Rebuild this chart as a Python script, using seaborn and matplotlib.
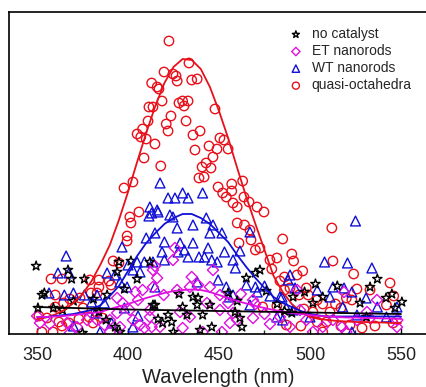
import matplotlib
matplotlib.use("Agg")
import matplotlib.pyplot as plt
import seaborn as sns
import pandas as pd
from matplotlib.ticker import MultipleLocator

# ---------------- data (wavelength nm, intensity a.u.) ----------------
quasi_x = [422.5, 433.5, 419.8, 424.7, 426.4, 427, 435, 438, 413, 416, 417, 418.7, 411.5, 413.7, 428, 430, 433, 430.8,
           447.8, 423.6, 431.9, 411, 421, 422, 408, 405, 407, 410, 439.6, 435.7, 414.8, 450.5, 452.7, 444.5, 448.9, 455,
           436.8, 446.7, 408.8, 442.9, 440.7, 445.6, 418, 439, 441.8, 463, 402.7, 397.8, 449.5, 457,
           406, 401, 401.6, 399.5, 399.5, 391.8, 395, 357.7, 363.7, 379, 384, 384, 389.6, 390.7, 360, 368, 379.7, 383,
           373.6, 360, 364.6, 375.3, 351, 355.5, 362, 363.7, 367.6, 373, 378.6, 380.8, 386, 352.7, 358.8, 382.4,
           452, 457, 454, 457.7, 460, 463.7, 466.5, 470.9, 474.7, 460, 464, 467, 467.6, 461, 472.5, 470, 485, 478, 481.8,
           479, 486, 474, 481.8, 486,
           512, 490, 491, 512.6, 496, 492.9, 524, 544, 483.5, 489, 498, 525.8, 533, 494, 499, 520, 523, 546, 504, 507,
           514, 517, 542, 496.7, 501.6, 511, 504, 509, 517, 522, 528.6, 535.7, 487, 495, 507, 545.6]
quasi_y = [293, 271, 262, 260, 258, 253, 254, 255, 251, 247, 245, 233, 227, 227, 231, 233, 233, 228,
           225, 218, 213, 213, 210, 203, 205, 200, 197, 195, 203, 199, 190, 196, 194, 188, 185, 185,
           184, 177, 176, 171, 167, 166, 168, 156, 157, 153, 152, 146, 147, 150,
           122, 117, 111, 98, 93, 73, 71, 55, 55, 54, 54, 47, 53, 49, 39, 35, 41, 41,
           36, 27, 31, 26, 18, 16, 12, 8, 11, 15, 17, 11, 16, 2, 2, 22,
           141, 143, 137, 131, 127, 137, 132, 127, 122, 111, 109, 104, 94, 91, 86, 84, 95, 74, 76,
           65, 57, 27, 28, 44,
           106, 80, 73, 73, 63, 59, 60, 51, 53, 46, 46, 45, 44, 39, 39, 36, 34, 38, 34, 30,
           30, 26, 29, 25, 22, 22, 12, 12, 8, 9, 6, 8, 9, 8, 2, 11]

wt_x = [417.6, 422, 425.8, 430, 433, 441, 412, 416.5, 423, 424.7, 443, 446.7, 427, 435.7, 451.6, 467, 414.8, 420,
        428.6, 435.7, 445, 444, 418.7, 427.5, 431, 439, 442, 446, 449, 453, 457.7, 461.5, 420, 413.7, 433, 459,
        438, 449.5, 454, 465, 470, 455.5, 457.7, 471, 475, 478, 484.6, 467, 481.8, 487, 414.8,
        366, 361.5, 367.6, 356.6, 365, 370, 376, 380, 383, 388.5, 392.8, 395.6, 399.5, 402.7, 400, 405, 406.6, 409,
        396.7, 410, 413, 411.5, 416, 382, 387, 391, 370, 384.6, 402.7, 405.5, 398,
        525, 508, 520.6, 534, 489, 488, 512.6, 504, 518.7, 523, 511, 530.8, 537, 547.8, 518, 483.5, 490.7, 491.8,
        500, 525.8, 523, 542, 485]
wt_y = [151, 136, 136, 141, 136, 141, 127, 122, 119, 117, 116, 109, 106, 109, 101, 102, 101, 92,
        91, 91, 101, 86, 82, 82, 84, 77, 77, 74, 72, 82, 74, 83, 74, 72, 77, 66,
        52, 54, 47, 49, 47, 37, 39, 42, 48, 38, 37, 29, 17, 26, 47,
        78, 61, 61, 41, 39, 41, 39, 32, 39, 61, 59, 52, 47, 64, 69, 72, 62, 72,
        87, 96, 121, 118, 124, 21, 31, 11, 8, 2, 7, 18, 26,
        113, 72, 71, 66, 59, 54, 47, 44, 46, 42, 37, 36, 27, 27, 27, 37, 24, 46,
        17, 19, 2, 17, 14]

et_x = [424.7, 425.8, 446.7, 413.7, 435, 434, 438.5, 445, 427, 419.6, 413.7, 443.4, 455, 428.6, 434, 450.5, 456,
        417.6, 430, 441, 451.6, 460, 468.7, 412,
        414.8, 416, 404, 408, 394, 397, 405.5, 401, 394, 390, 395.6, 402.7, 406.6, 409, 350, 351.6, 357, 366.5, 372,
        377.5, 383, 387, 368, 390, 413, 412,
        483.5, 489, 498, 507, 512.6, 517.6, 525.8, 531.3, 536.8, 533, 547.8, 548, 501.6, 520, 494.5, 518.7, 493,
        450.5, 457.7, 468.7, 470, 475, 478, 462]
et_y = [74, 86, 64, 64, 57, 47, 49, 47, 44, 39, 47, 31, 31, 22, 17, 24, 11,
        7, 6, 2, 2, 14, 16, 24,
        68, 56, 42, 44, 36, 31, 34, 24, 21, 14, 7, 14, 9, 6, 18, 11, 10, 11, 7,
        14, 14, 9, 1, 2, 7, 17,
        17, 7, 14, 7, 14, 7, 14, 22, 34, 16, 7, 14, 2, 2, 24, 42, 44,
        39, 21, 34, 30, 20, 10, 40]

none_x = [349.5, 367, 369, 352.7, 354, 376, 381, 388.5, 394, 395, 401.6, 350.5, 359, 388, 393, 395.6, 375, 413.7,
          416.5, 412, 435.7, 438.5, 438, 430, 432.4, 422, 424, 419, 425, 439.6, 446, 441, 455, 458.8, 461.5, 462.6,
          470, 472.5, 414.8, 507, 515, 527.5, 533, 541.8, 550.5, 546.7, 531, 490.7, 490, 501.6,
          476, 482, 486, 465, 497, 503, 537, 545, 460, 445, 428, 405, 398, 364, 370, 384]
none_y = [68, 64, 55, 39, 41, 55, 35, 39, 62, 72, 73, 26, 26, 14, 7, 2, 1, 29,
          15, 72, 37, 36, 29, 27, 19, 19, 12, 11, 2, 4, 7, 19, 41, 22, 16, 7,
          61, 64, 29, 37, 48, 31, 47, 36, 32, 26, 17, 37, 21, 31,
          43, 30, 23, 56, 42, 50, 55, 40, 33, 29, 40, 55, 45, 24, 33, 22]

# fitted curves (read at 5-nm steps)
fit_x = list(range(350, 551, 5))
fit_quasi = [15, 16.5, 19.5, 24, 31, 40, 53, 70, 89, 114, 142, 172, 201, 228, 251, 267, 275, 274, 265, 247, 223,
             196, 166, 137, 110, 84, 58, 42, 30, 22, 17, 15, 14, 13, 12.5, 12, 12, 11.5, 11.5, 11, 11]
fit_wt = [17, 17, 18, 19, 20, 22, 24, 29, 38, 48, 63, 78, 91, 101, 110, 116, 120, 120, 116, 110, 101,
          92, 79, 67, 56, 46, 37, 31, 27, 23, 20, 18.5, 17.5, 17.5, 17.5, 17.5, 17.5, 17.5, 17.5, 17.5, 17.5]
fit_et = [17, 17, 17.5, 18, 19, 20, 21, 22, 25, 27.5, 30, 33, 36, 38.5, 41, 43, 44, 44.5, 44, 42, 39,
          36, 33, 30.5, 28, 26, 24, 22.5, 21, 20, 19, 18, 17.5, 17, 16.5, 16.5, 16, 16, 15.5, 15.5, 15]
fit_none_x = [350, 400, 450, 500, 550]
fit_none = [27, 24.5, 23, 21.5, 20]

labels = ["no catalyst", "ET nanorods", "WT nanorods", "quasi-octahedra"]
c_red, c_blue, c_mag, c_black = "#e8101a", "#1010d8", "#e010e0", "#000000"

# ---------------- figure ----------------
sns.set_theme(style="white")
plt.rcParams["font.family"] = ["Liberation Sans", "DejaVu Sans"]

fig = plt.figure(figsize=(4.27, 3.87), dpi=100)
ax = fig.add_axes([9 / 427, 53 / 387, 418 / 427, 322 / 387])

df_q = pd.DataFrame({"x": quasi_x, "y": quasi_y})
df_w = pd.DataFrame({"x": wt_x, "y": wt_y})
df_e = pd.DataFrame({"x": et_x, "y": et_y})
df_n = pd.DataFrame({"x": none_x, "y": none_y})

sns.scatterplot(data=df_q, x="x", y="y", ax=ax, marker="o", s=46, facecolor="none",
                edgecolor=c_red, linewidth=1.0, label=labels[3], zorder=2)
sns.scatterplot(data=df_w, x="x", y="y", ax=ax, marker="^", s=50, facecolor="none",
                edgecolor=c_blue, linewidth=1.0, label=labels[2], zorder=2)
sns.scatterplot(data=df_e, x="x", y="y", ax=ax, marker="D", s=32, facecolor="none",
                edgecolor=c_mag, linewidth=1.0, label=labels[1], zorder=2)
sns.scatterplot(data=df_n, x="x", y="y", ax=ax, marker="*", s=50, facecolor="none",
                edgecolor=c_black, linewidth=1.0, label=labels[0], zorder=3)

sns.lineplot(x=fit_x, y=fit_quasi, ax=ax, color=c_red, lw=1.3, zorder=4)
sns.lineplot(x=fit_x, y=fit_wt, ax=ax, color=c_blue, lw=1.3, zorder=4)
sns.lineplot(x=fit_x, y=fit_et, ax=ax, color=c_mag, lw=1.3, zorder=4)
sns.lineplot(x=fit_none_x, y=fit_none, ax=ax, color=c_black, lw=1.3, zorder=4)

ax.set_xlim(334.6, 564.3)
ax.set_ylim(0, 322)
ax.set_yticks([])
ax.set_ylabel("")
ax.xaxis.set_major_locator(MultipleLocator(50))
ax.xaxis.set_minor_locator(MultipleLocator(25))
ax.tick_params(axis="x", which="major", direction="in", length=4, width=1, labelsize=13, pad=9,
               colors="black", labelcolor="#222222", bottom=True)
ax.tick_params(axis="x", which="minor", direction="in", length=3, width=1, bottom=True)
ax.set_xlabel("Wavelength (nm)", fontsize=14.5, labelpad=3, color="#222222")
for side in ["left", "top", "bottom"]:
    ax.spines[side].set_visible(True)
    ax.spines[side].set_color("black")
    ax.spines[side].set_linewidth(1.2)
ax.spines["right"].set_visible(False)

h, l = ax.get_legend_handles_labels()
order = [l.index(t) for t in labels]
leg = ax.legend([h[i] for i in order], [l[i] for i in order], loc="upper left",
                bbox_to_anchor=(0.673, 0.953), frameon=False, fontsize=10,
                handlelength=0.8, handletextpad=0.75, labelspacing=0.22,
                borderpad=0, borderaxespad=0, markerscale=0.75)

fig.savefig("out.png", dpi=100)
